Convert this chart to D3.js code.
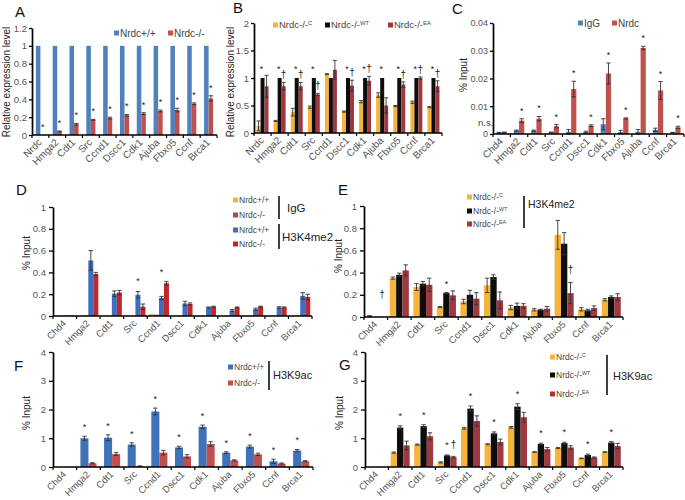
<!DOCTYPE html>
<html><head><meta charset="utf-8">
<script src="https://cdn.jsdelivr.net/npm/d3@7"></script>
<style>body{margin:0;background:#fff} text{font-family:Arial,"Liberation Sans",Helvetica,sans-serif}</style>
</head><body><svg id="c" width="685" height="500"></svg>
<script>
// ---------- DATA ----------
const catsA = ["Nrdc","Hmga2","Cdt1","Src","Ccnd1","Dscc1","Cdk1","Ajuba","Fbxo5","Ccnf","Brca1"];
const catsC = ["Chd4","Hmga2","Cdt1","Src","Ccnd1","Dscc1","Cdk1","Fbxo5","Ajuba","Ccnf","Brca1"];
const catsD = ["Chd4","Hmga2","Cdt1","Src","Ccnd1","Dscc1","Cdk1","Ajuba","Fbxo5","Ccnf","Brca1"];

const ticksA = [0,0.2,0.4,0.6,0.8,1,1.2];
const ticksB = [0,0.5,1,1.5,2];
const ticksC = [0,0.01,0.02,0.03,0.04];
const ticksD = [0,0.2,0.4,0.6,0.8,1];
const ticksF = [0,1,2,3,4];

// A: relative expression
const aWT    = [1,1,1,1,1,1,1,1,1,1,1];
const aWTerr = [0,0,0,0,0,0,0,0,0,0,0];
const aKO    = [0,0.04,0.12,0.17,0.19,0.22,0.24,0.27,0.28,0.35,0.41];
const aKOerr = [0,0.005,0.01,0.005,0.01,0.01,0.01,0.01,0.02,0.01,0.03];
const aStars = [0,1,2,3,4,5,6,7,8,9,10];

// B: rescue expression
const bC     = [0.13,0.22,0.38,0.47,1.07,0.39,0.57,0.69,0.49,0.56,0.47];
const bCerr  = [0.09,0.01,0.07,0.02,0.01,0.01,0.02,0.04,0.01,0.02,0.01];
const bWT    = [1,1,1,1,1,1,1,1,1,1,1];
const bWTerr = [0,0,0,0,0,0,0,0,0,0,0];
const bEA    = [0.85,0.85,0.85,0.7,1.15,0.86,0.95,0.5,0.88,1.0,0.85];
const bEAerr = [0.2,0.07,0.07,0.02,0.17,0.1,0.08,0.14,0.05,0.02,0.1];
const bStars = [0,1,2,3,5,6,7,8,9,10];
const bStarLevel = 1.2;
const bDaggers = [1,2,3,5,6,8,9,10];

// C: ChIP Nrdc
const cIgG    = [0.0005,0.0012,0.0012,0.0006,0.0008,0.0007,0.0035,0.0007,0.0008,0.0015,0.0005];
const cIgGerr = [0.0001,0.0002,0.0002,0.0001,0.0008,0.0003,0.002,0.0006,0.0008,0.0006,0.0001];
const cNrdc   = [0.0006,0.0048,0.0055,0.0028,0.0162,0.003,0.0218,0.0056,0.031,0.0157,0.0024];
const cNrdcErr= [0.0001,0.0007,0.0008,0.0006,0.0028,0.0003,0.0038,0.0002,0.0006,0.0032,0.0004];
const cStars = [1,2,3,4,5,6,7,8,9,10];

// D: H3K4me2 (Nrdc+/+ vs -/-), with IgG
const dIgGwt    = [0.004,0.005,0.003,0.003,0.02,0.003,0.003,0.003,0.003,0.003,0.003];
const dIgGko    = [0.003,0.004,0.003,0.003,0.012,0.003,0.003,0.003,0.003,0.003,0.003];
const dZeroErr  = [0,0,0,0,0,0,0,0,0,0,0];
const dWT    = [0.005,0.51,0.205,0.195,0.165,0.115,0.078,0.05,0.062,0.078,0.185];
const dWTerr = [0,0.09,0.025,0.03,0.015,0.02,0.005,0.01,0.01,0.007,0.03];
const dKO    = [0.005,0.385,0.215,0.085,0.3,0.11,0.085,0.078,0.085,0.078,0.175];
const dKOerr = [0,0.015,0.02,0.025,0.015,0.01,0.005,0.005,0.005,0.005,0.025];
const dStars = [3,4];

// E: H3K4me2 rescue
const eC     = [0.01,0.35,0.27,0.09,0.14,0.285,0.085,0.065,0.74,0.07,0.155];
const eCerr  = [0.002,0.01,0.03,0.005,0.02,0.065,0.02,0.01,0.13,0.015,0.01];
const eWT    = [0,0.38,0.3,0.215,0.2,0.36,0.1,0.065,0.66,0.06,0.18];
const eWTerr = [0,0.015,0.02,0.005,0.04,0.02,0.025,0.005,0.1,0.01,0.01];
const eEA    = [0,0.42,0.29,0.195,0.165,0.15,0.1,0.075,0.215,0.08,0.18];
const eEAerr = [0,0.05,0.06,0.04,0.055,0.075,0.02,0.02,0.095,0.02,0.03];
const eStars = [3];
const eDaggers = [0,8];

// F: H3K9ac
const fWT    = [0,1.0,1.02,0.78,1.93,0.68,1.4,0.5,0.71,0.2,0.57];
const fWTerr = [0,0.07,0.1,0.06,0.12,0.04,0.06,0.03,0.05,0.07,0.04];
const fKO    = [0,0.13,0.45,0.03,0.5,0.37,0.8,0.23,0.44,0.12,0.2];
const fKOerr = [0,0.02,0.05,0.01,0.08,0.06,0.08,0.02,0.04,0.02,0.02];
const fStars = [1,2,3,4,5,6,7,8,9,10];

// G: H3K9ac rescue
const gC     = [0,0.5,0.78,0.16,1.35,0.79,1.38,0.52,0.66,0.3,0.52];
const gCerr  = [0,0.02,0.02,0.02,0.03,0.02,0.03,0.01,0.02,0.01,0.01];
const gWT    = [0,1.37,1.42,0.4,2.03,1.17,2.1,0.8,0.83,0.42,0.85];
const gWTerr = [0,0.06,0.05,0.02,0.09,0.05,0.1,0.03,0.03,0.03,0.03];
const gEA    = [0,0.75,1.07,0.34,1.6,0.87,1.73,0.62,0.68,0.33,0.73];
const gEAerr = [0,0.15,0.12,0.03,0.18,0.1,0.17,0.06,0.06,0.02,0.09];
const gStars = [1,2,3,4,5,6,7,8,9,10];
const gDaggers = [3];

// ---------- COLOURS ----------
const BLUE="#4f81bd", RED="#c0504d", YEL="#f6b53a", BLK="#0d0d0d", MAR="#9e3a3f";
const DBLUE="#3e6fbf", DRED="#c1272d", DIGR="#b5484b";

// ---------- DRAW ----------
const svg = d3.select("#c");
svg.append("rect").attr("width",685).attr("height",500).attr("fill","#fff");

function sym(g, x, y, s, fs){
  const dy = s==="*" ? 0.55*fs : 0.3*fs;
  g.append("text").attr("x",x).attr("y",y+dy).attr("text-anchor","middle")
   .attr("font-family","'Liberation Sans', Arial, sans-serif")
   .attr("font-size",fs).attr("fill","#222").text(s);
}

function panel(p){
  const g = svg.append("g");
  const x = d3.scaleBand().domain(p.cats).range([p.x0,p.x1]);
  const y = d3.scaleLinear().domain([0,p.ymax]).range([p.y0,p.yTop]);
  const bw = x.bandwidth(), cw = bw*p.fill;
  const xs = d3.scaleBand().domain(d3.range(p.series.length)).range([0,cw]);
  const bx = (i,si) => x(p.cats[i]) + (bw-cw)/2 + xs(si);
  const top = (i,si) => p.series[si].v[i] + p.series[si].e[i];
  p.series.forEach((s,si)=>{
    g.selectAll(null).data(s.v).join("rect")
      .attr("x",(d,i)=>bx(i,si)).attr("y",d=>y(d))
      .attr("width",xs.bandwidth()).attr("height",d=>y(0)-y(d))
      .attr("fill",s.c);
    const eg = g.append("g").attr("stroke", "#333").attr("stroke-width",0.9);
    s.v.forEach((d,i)=>{
      const e = s.e[i]; if(!e) return;
      const cx = bx(i,si)+xs.bandwidth()/2, hw = Math.min(2.2, xs.bandwidth()/2);
      const y1=y(d+e), y2=y(Math.max(0,d-e));
      eg.append("line").attr("x1",cx).attr("x2",cx).attr("y1",y1).attr("y2",y2);
      eg.append("line").attr("x1",cx-hw).attr("x2",cx+hw).attr("y1",y1).attr("y2",y1);
      eg.append("line").attr("x1",cx-hw).attr("x2",cx+hw).attr("y1",y2).attr("y2",y2);
    });
  });
  // y axis
  const ya = g.append("g").attr("transform",`translate(${p.x0},0)`)
    .call(d3.axisLeft(y).tickValues(p.ticks).tickFormat(d3.format("~g"))
      .tickSize(p.tick||3).tickPadding(p.pad||2).tickSizeOuter(0));
  ya.select(".domain").attr("stroke","#000").attr("stroke-width",1.7);
  ya.selectAll(".tick line").attr("stroke","#000").attr("stroke-width",1.3);
  ya.selectAll(".tick text").attr("font-size",p.tfs||9.5).attr("fill","#555")
    .attr("font-family","Arial, 'Liberation Sans', sans-serif");
  // x axis
  const xa = g.append("g");
  xa.append("line").attr("x1",p.x0).attr("x2",p.x1).attr("y1",p.y0).attr("y2",p.y0)
    .attr("stroke","#000").attr("stroke-width",1.7);
  p.cats.forEach(c=>{
    xa.append("line").attr("x1",x(c)).attr("x2",x(c)).attr("y1",p.y0).attr("y2",p.y0+3)
      .attr("stroke","#000").attr("stroke-width",1.2);
  });
  xa.append("line").attr("x1",p.x1).attr("x2",p.x1).attr("y1",p.y0).attr("y2",p.y0+3)
      .attr("stroke","#000").attr("stroke-width",1.2);
  p.cats.forEach(c=>{
    const cx = x(c)+bw/2+2, cy = p.y0+8;
    xa.append("text").attr("transform",`translate(${cx},${cy}) rotate(-45)`)
      .attr("text-anchor","end").attr("font-size",p.cfs||9.5).attr("fill","#555").text(c);
  });
  // y label
  g.append("text").attr("transform",`translate(${p.lx},${p.ly}) rotate(-90)`)
    .attr("text-anchor","middle").attr("dy","0.35em").attr("font-size",10).attr("fill","#222").text(p.ylabel);
  // panel letter
  g.append("text").attr("x",p.letter[1]).attr("y",p.letter[2]).attr("font-size",15).attr("fill","#111").text(p.letter[0]);
  // annotations
  (p.ann||[]).forEach(a=>{
    a.idx.forEach(i=>{
      const cx = bx(i,a.s)+xs.bandwidth()/2 + (a.dx||0);
      let cy;
      if(a.level!==undefined) cy = y(a.level);
      else {
        const t = a.maxAll ? d3.max(p.series.map((s,si)=>top(i,si))) : top(i,a.s);
        cy = y(t) - a.off;
      }
      sym(g,cx,cy,a.sym,a.fs||9);
    });
  });
  return {g,x,y};
}

function legendItem(g, x, y, color, label, sup, fs){
  g.append("rect").attr("x",x).attr("y",y-2.5).attr("width",5).attr("height",5).attr("fill",color);
  const t = g.append("text").attr("x",x+6).attr("y",y+fs*0.36).attr("font-size",fs).attr("fill","#444").text(label);
  if(sup) t.append("tspan").attr("dy",-fs*0.35).attr("font-size",fs*0.62).text(sup);
}
function bar(g,x,y1,y2){ g.append("line").attr("x1",x).attr("x2",x).attr("y1",y1).attr("y2",y2).attr("stroke","#000").attr("stroke-width",1.5); }

// Panel A
const pA = panel({cats:catsA,x0:32,x1:217,y0:135,yTop:28,ymax:1.2,ticks:ticksA,fill:0.54,cfs:10,
  series:[{v:aWT,e:aWTerr,c:BLUE},{v:aKO,e:aKOerr,c:RED}],
  ylabel:"Relative expression level",lx:6,ly:82,letter:["A",15,17],
  ann:[{sym:"*",s:1,idx:aStars,off:10}]});
legendItem(pA.g,114,33,BLUE,"Nrdc+/+",null,10);
legendItem(pA.g,168,33,RED,"Nrdc-/-",null,10);

// Panel B
const pB = panel({cats:catsA,x0:254,x1:442,y0:133,yTop:23,ymax:2,ticks:ticksB,fill:0.7,cfs:10,
  series:[{v:bC,e:bCerr,c:YEL},{v:bWT,e:bWTerr,c:BLK},{v:bEA,e:bEAerr,c:MAR}],
  ylabel:"Relative expression level",lx:230,ly:82,letter:["B",233,13],
  ann:[{sym:"*",s:1,idx:bStars,level:bStarLevel,dx:-1},{sym:"†",s:2,idx:bDaggers,off:7,fs:10}]});
legendItem(pB.g,273,25,YEL,"Nrdc-/-","C",9.5);
legendItem(pB.g,325,25,BLK,"Nrdc-/-","WT",9.5);
legendItem(pB.g,388,25,MAR,"Nrdc-/-","EA",9.5);

// Panel C
const pC = panel({cats:catsC,x0:493,x1:684,y0:134,yTop:23,ymax:0.04,ticks:ticksC,fill:0.6,cfs:10,tfs:9,
  series:[{v:cIgG,e:cIgGerr,c:BLUE},{v:cNrdc,e:cNrdcErr,c:RED}],
  ylabel:"% Input",lx:463,ly:75,letter:["C",452,14],
  ann:[{sym:"*",s:1,idx:cStars,off:10}]});
pC.g.append("text").attr("x",478).attr("y",126).attr("font-size",9.5).attr("fill","#444").text("n.s.");
legendItem(pC.g,578,23,BLUE,"IgG",null,10);
legendItem(pC.g,612,23,RED,"Nrdc",null,10);

// Panel D
const pD = panel({cats:catsD,x0:53,x1:312,y0:316,yTop:207,ymax:1,ticks:ticksD,fill:0.85,tick:4,pad:3,
  series:[{v:dIgGwt,e:dZeroErr,c:YEL},{v:dIgGko,e:dZeroErr,c:DIGR},{v:dWT,e:dWTerr,c:DBLUE},{v:dKO,e:dKOerr,c:DRED}],
  ylabel:"% Input",lx:26,ly:253,letter:["D",16,195],
  ann:[{sym:"*",s:2,idx:dStars,off:12,maxAll:true}]});
legendItem(pD.g,233,200,YEL,"Nrdc+/+",null,8.5);
legendItem(pD.g,233,215,DIGR,"Nrdc-/-",null,8.5);
legendItem(pD.g,233,230,DBLUE,"Nrdc+/+",null,8.5);
legendItem(pD.g,233,244,DRED,"Nrdc-/-",null,8.5);
bar(pD.g,279,196,219); bar(pD.g,279,224,249);
pD.g.append("text").attr("x",287).attr("y",212).attr("font-size",11.5).attr("fill","#222").text("IgG");
pD.g.append("text").attr("x",282).attr("y",241).attr("font-size",11.5).attr("fill","#222").text("H3K4me2");

// Panel E
const pE = panel({cats:catsD,x0:364,x1:623,y0:317,yTop:206,ymax:1,ticks:ticksD,fill:0.81,tick:4,pad:3,
  series:[{v:eC,e:eCerr,c:YEL},{v:eWT,e:eWTerr,c:BLK},{v:eEA,e:eEAerr,c:MAR}],
  ylabel:"% Input",lx:338,ly:256,letter:["E",338,195],
  ann:[{sym:"*",s:1,idx:eStars,off:11},{sym:"†",s:2,idx:[eDaggers[0]],off:22,fs:10},{sym:"†",s:2,idx:[eDaggers[1]],off:13,fs:10}]});
legendItem(pE.g,467,197,YEL,"Nrdc-/-","C",8.5);
legendItem(pE.g,467,211,BLK,"Nrdc-/-","WT",8.5);
legendItem(pE.g,467,224,MAR,"Nrdc-/-","EA",8.5);
bar(pE.g,524,196,228);
pE.g.append("text").attr("x",528).attr("y",208).attr("font-size",10.5).attr("fill","#222").text("H3K4me2");

// Panel F
const pF = panel({cats:catsD,x0:53,x1:313,y0:467,yTop:352,ymax:4,ticks:ticksF,fill:0.68,tick:4,pad:3,
  series:[{v:fWT,e:fWTerr,c:"#3e72b9"},{v:fKO,e:fKOerr,c:RED}],
  ylabel:"% Input",lx:26,ly:413,letter:["F",14,371],
  ann:[{sym:"*",s:0,idx:fStars,off:11}]});
legendItem(pF.g,228,367,"#3e72b9","Nrdc+/+",null,8.5);
legendItem(pF.g,228,383,RED,"Nrdc-/-",null,8.5);
bar(pF.g,269,361,390);
pF.g.append("text").attr("x",273).attr("y",379).attr("font-size",11).attr("fill","#222").text("H3K9ac");

// Panel G
const pG = panel({cats:catsD,x0:365,x1:623,y0:467,yTop:352,ymax:4,ticks:ticksF,fill:0.81,tick:4,pad:3,
  series:[{v:gC,e:gCerr,c:YEL},{v:gWT,e:gWTerr,c:BLK},{v:gEA,e:gEAerr,c:MAR}],
  ylabel:"% Input",lx:339,ly:413,letter:["G",339,370],
  ann:[{sym:"*",s:1,idx:gStars,off:12},{sym:"†",s:2,idx:gDaggers,off:11,fs:10}]});
legendItem(pG.g,550,357,YEL,"Nrdc-/-","C",8.5);
legendItem(pG.g,550,375,BLK,"Nrdc-/-","WT",8.5);
legendItem(pG.g,550,394,MAR,"Nrdc-/-","EA",8.5);
bar(pG.g,607,355,395);
pG.g.append("text").attr("x",613).attr("y",380).attr("font-size",11).attr("fill","#222").text("H3K9ac");
</script></body></html>
